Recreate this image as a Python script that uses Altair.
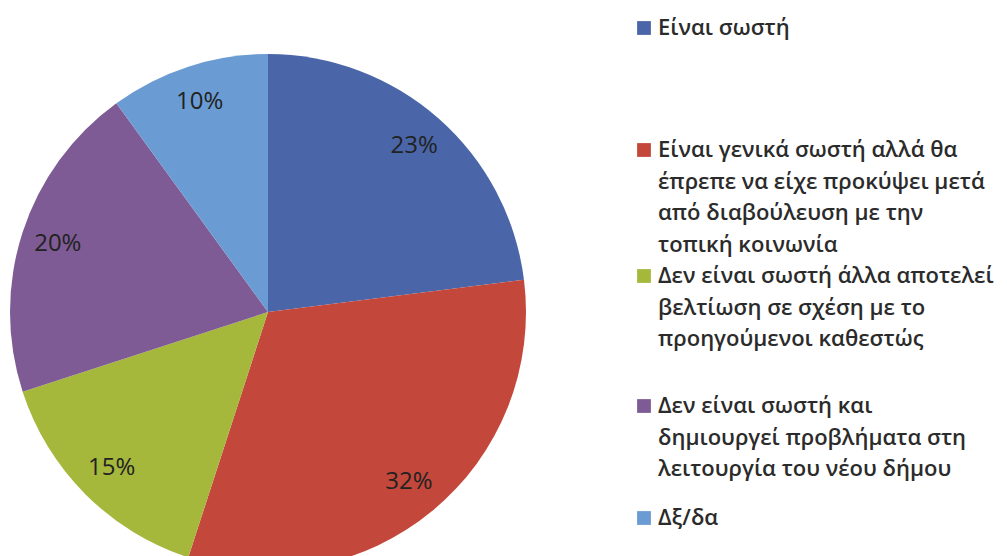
import altair as alt
import pandas as pd

# ---- data ----
categories = [
    "Είναι σωστή",
    "Είναι γενικά σωστή αλλά θα\nέπρεπε να είχε προκύψει μετά\nαπό διαβούλευση με την\nτοπική κοινωνία",
    "Δεν είναι σωστή άλλα αποτελεί\nβελτίωση σε σχέση με το\nπροηγούμενοι καθεστώς",
    "Δεν είναι σωστή και\nδημιουργεί προβλήματα στη\nλειτουργία του νέου δήμου",
    "Δξ/δα",
]
percentages = [23, 32, 15, 20, 10]
pct_labels = ["23%", "32%", "15%", "20%", "10%"]
colors = ["#4A66A8", "#C3473B", "#A6B83C", "#7E5B94", "#6A9CD3"]

# ---- layout (styling, not data) ----
CX, CY, R, R_LABEL = 260, 304, 258, 221
FONT = "Open Sans"
LEG_TEXT_X, LEG_SYM_X = 650, 636
ENTRY_Y = [20, 142, 268, 398, 510]
LINE_GAP = 31.7

pie_df = pd.DataFrame({
    "cat": categories,
    "value": percentages,
    "label": pct_labels,
    "ord": list(range(len(categories))),
})

color_scale = alt.Scale(domain=categories, range=colors)

arcs = alt.Chart(pie_df).mark_arc(radius=R).encode(
    theta=alt.Theta("value:Q", stack=True),
    order=alt.Order("ord:Q"),
    color=alt.Color("cat:N", scale=color_scale, legend=None),
    x=alt.value(CX),
    y=alt.value(CY),
)

texts = alt.Chart(pie_df).mark_text(
    radius=R_LABEL, font=FONT, fontSize=24, color="#222222"
).encode(
    theta=alt.Theta("value:Q", stack=True),
    order=alt.Order("ord:Q"),
    text="label:N",
    x=alt.value(CX),
    y=alt.value(CY),
)

# ---- legend built from categories ----
rows = []
for i, cat in enumerate(categories):
    for j, line in enumerate(cat.split("\n")):
        rows.append({
            "cat": cat,
            "line": line,
            "j": j,
            "ypos": ENTRY_Y[i] + j * LINE_GAP,
        })
leg_df = pd.DataFrame(rows)

leg_text = alt.Chart(leg_df).mark_text(
    align="left", baseline="middle", font=FONT, fontSize=22,
    fontWeight=600, color="#2b2b2b"
).encode(
    x=alt.value(LEG_TEXT_X),
    y=alt.Y("ypos:Q", scale=None, axis=None),
    text="line:N",
)

leg_sym = alt.Chart(leg_df).transform_filter(alt.datum.j == 0).mark_square(
    size=190, opacity=1
).encode(
    x=alt.value(LEG_SYM_X),
    y=alt.Y("ypos:Q", scale=None, axis=None),
    color=alt.Color("cat:N", scale=color_scale, legend=None),
)

chart = alt.layer(arcs, texts, leg_text, leg_sym).properties(
    width=990, height=548, padding=0,
    autosize=alt.AutoSizeParams(type="none"),
).configure_view(stroke=None).resolve_scale(theta="shared")

chart.save("out.html", embed_options={"renderer": "svg", "actions": False})
